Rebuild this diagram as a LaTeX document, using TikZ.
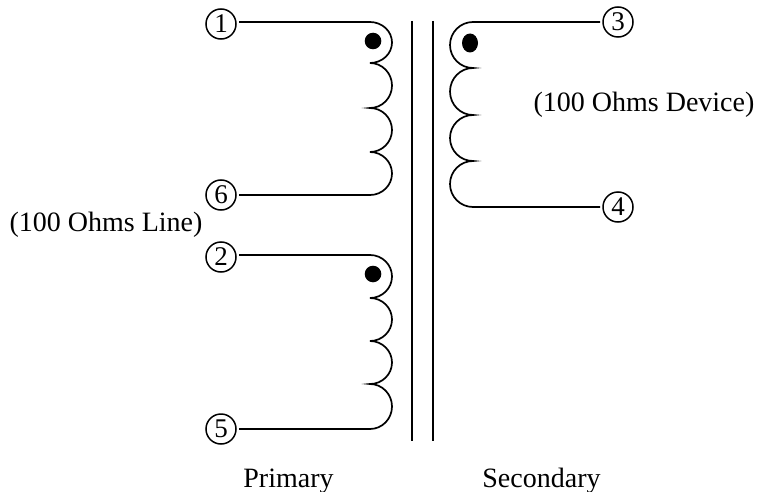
\documentclass[tikz,border=0pt]{standalone}
\usepackage{fontspec}
\setmainfont{Liberation Serif}
\usetikzlibrary{positioning}

\begin{document}
\begin{tikzpicture}[x=1pt,y=-1pt,
        pin/.style={shape=circle,draw,line width=1.5pt,inner sep=0pt,minimum size=30pt,outer sep=3pt,font=\fontsize{27}{27}\selectfont},
        wire/.style={line width=1.7pt},
        core/.style={line width=1.6pt},
        label/.style={inner sep=0pt,anchor=base,font=\fontsize{28}{28}\selectfont},]
        \useasboundingbox (0,0) rectangle (757,492);
        % pins
        \node[pin] (p1) at (221,24) {1};
        \node[pin] (p6) at (221,195) {6};
        \node[pin] (p2) at (221,257) {2};
        \node[pin] (p5) at (221,429) {5};
        \node[pin] (p3) at (618,22) {3};
        \node[pin] (p4) at (618,207) {4};
        % windings
        \coordinate (a) at (370,22);
        \coordinate (b) at (370,195);
        \coordinate (c) at (370,255);
        \coordinate (d) at (370,429);
        \coordinate (e) at (473,22);
        \coordinate (f) at (473,207);
        \draw[wire] (p1.east |- a) -- (a) arc[start angle=-90,end angle=90,x radius=22,y radius=20.5]
            arc[start angle=-90,end angle=90,x radius=22,y radius=22.5]
            arc[start angle=-90,end angle=90,x radius=22,y radius=22]
            arc[start angle=-90,end angle=90,x radius=22,y radius=21.5] -- (p6.east |- b);
        \draw[wire] (p2.east |- c) -- (c) arc[start angle=-90,end angle=90,x radius=22,y radius=21.5]
            arc[start angle=-90,end angle=90,x radius=22,y radius=21.5]
            arc[start angle=-90,end angle=90,x radius=22,y radius=21.5]
            arc[start angle=-90,end angle=90,x radius=22,y radius=22.5] -- (p5.east |- d);
        \draw[wire] (p3.west |- e) -- (e) arc[start angle=-90,end angle=-270,x radius=23,y radius=23]
            arc[start angle=-90,end angle=-270,x radius=23,y radius=23.5]
            arc[start angle=-90,end angle=-270,x radius=23,y radius=23]
            arc[start angle=-90,end angle=-270,x radius=23,y radius=23] -- (p4.west |- f);
        % dots
        \fill (373,41) circle[radius=8.3];
        \fill (373,274) circle[radius=8.3];
        \fill (470,43) ellipse[x radius=8,y radius=9.5];
        % core
        \coordinate (l1) at (412,21);
        \coordinate (l2) at (412,441);
        \coordinate (r1) at (433,21);
        \coordinate (r2) at (433,441);
        \draw[core] (l1) -- (l2);
        \draw[core] (r1) -- (r2);
        % labels
        \node[label] (line) at (106,231) {(100 Ohms Line)};
        \node[label] (device) at (644,112) {(100 Ohms Device)};
        \node[label] (primary) at (288.5,487) {Primary};
        \node[label] (secondary) at (541.5,487) {Secondary};
\end{tikzpicture}
\end{document}
